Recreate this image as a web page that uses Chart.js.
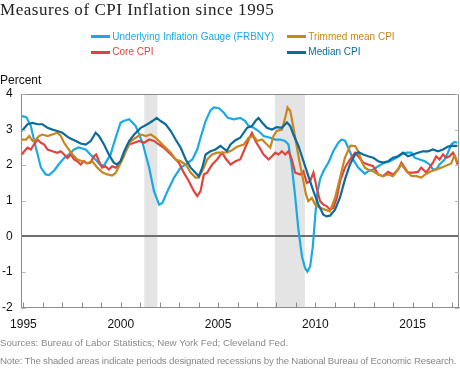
<!DOCTYPE html>
<html>
<head>
<meta charset="utf-8">
<title>Measures of CPI Inflation since 1995</title>
<script src="https://cdn.jsdelivr.net/npm/chart.js@4.4.1/dist/chart.umd.min.js"></script>
<style>
  html, body { margin: 0; padding: 0; background: #fff; }
  #wrap { position: relative; width: 460px; height: 374px; overflow: hidden; font-family: "Liberation Sans", Arial, sans-serif; }
  #chart { position: absolute; left: 0; top: 0; }
  .txt { position: absolute; white-space: nowrap; }
  #title { left: 0; top: 1px; font-family: "Liberation Serif", Georgia, serif; font-size: 17px; line-height: 17px; letter-spacing: 0.55px; color: #222; }
  .leg { font-size: 10px; line-height: 12px; }
  .leg i { position: absolute; left: -21.6px; top: 4.5px; width: 19.3px; height: 3px; }
  #percent { left: 0; top: 73px; font-size: 12px; line-height: 14px; color: #111; }
  .note { left: 0; font-size: 9.7px; line-height: 12px; color: #8a8a8a; }
</style>
</head>
<body>
<div id="wrap">
  <canvas id="chart" width="460" height="374"></canvas>
  <div class="txt" id="title">Measures of CPI Inflation since 1995</div>
  <div class="txt leg" id="leg-uig" style="left:112.3px;top:30.7px;color:#1aa9e6"><i style="background:#1aa9e6"></i>Underlying Inflation Gauge (FRBNY)</div>
  <div class="txt leg" id="leg-trim" style="left:308.3px;top:30.7px;color:#c8861f"><i style="background:#c8861f"></i>Trimmed mean CPI</div>
  <div class="txt leg" id="leg-core" style="left:112.3px;top:46.3px;color:#e0443d"><i style="background:#e0443d"></i>Core CPI</div>
  <div class="txt leg" id="leg-med" style="left:308.3px;top:46.3px;color:#0b6b9a"><i style="background:#0b6b9a"></i>Median CPI</div>
  <div class="txt" id="percent">Percent</div>
  <div class="txt note" style="top:337.3px">Sources: Bureau of Labor Statistics; New York Fed; Cleveland Fed.</div>
  <div class="txt note" style="top:355px;letter-spacing:-0.2px">Note: The shaded areas indicate periods designated recessions by the National Bureau of Economic Research.</div>
</div>
<script>
(function () {
  'use strict';

  // x tick labels and y range
  var yearTicks = [1995, 2000, 2005, 2010, 2015];
  var yTicks = [-2, -1, 0, 1, 2, 3, 4];

  // NBER recessions (start, end) in decimal years
  var recessions = [[2001.21, 2001.88], [2007.92, 2009.46]];

  // Underlying Inflation Gauge (FRBNY)
  var uigYears = [1994.92, 1995.15, 1995.38, 1995.64, 1995.90, 1996.14, 1996.32, 1996.58, 1996.84, 1997.09,
    1997.34, 1997.60, 1997.84, 1998.20, 1998.44, 1998.71, 1998.97, 1999.14, 1999.31, 1999.48,
    1999.64, 1999.82, 1999.99, 2000.14, 2000.43, 2000.77, 2001.12, 2001.46, 2001.71, 2001.97,
    2002.14, 2002.40, 2002.74, 2003.08, 2003.34, 2003.68, 2003.93, 2004.10, 2004.36, 2004.61,
    2004.78, 2005.04, 2005.29, 2005.50, 2005.81, 2006.14, 2006.40, 2006.57, 2006.83, 2007.08,
    2007.34, 2007.68, 2007.94, 2008.19, 2008.44, 2008.62, 2008.79, 2008.96, 2009.13, 2009.31,
    2009.47, 2009.59, 2009.73, 2009.87, 2009.99, 2010.10, 2010.24, 2010.41, 2010.67, 2010.92,
    2011.18, 2011.35, 2011.52, 2011.69, 2011.94, 2012.20, 2012.54, 2012.71, 2012.97, 2013.23,
    2013.48, 2013.82, 2014.17, 2014.42, 2014.68, 2014.94, 2015.10, 2015.36, 2015.62, 2015.87,
    2016.04, 2016.21, 2016.38, 2016.64, 2016.81, 2016.98, 2017.15, 2017.30];
  var uigValues = [3.38, 3.35, 3.10, 2.49, 1.93, 1.74, 1.72, 1.85, 2.04, 2.20,
    2.30, 2.44, 2.50, 2.44, 2.30, 2.15, 2.00, 1.99, 2.15, 2.30,
    2.60, 2.91, 3.19, 3.24, 3.29, 3.10, 2.63, 1.93, 1.27, 0.89,
    0.94, 1.27, 1.65, 1.93, 2.02, 2.16, 2.44, 2.77, 3.24, 3.54,
    3.62, 3.60, 3.48, 3.33, 3.29, 3.33, 3.24, 3.10, 3.05, 2.96,
    2.82, 2.77, 2.72, 2.72, 2.68, 2.58, 1.97, 1.13, 0.19, -0.56,
    -0.89, -0.99, -0.85, -0.28, 0.56, 1.22, 1.60, 1.83, 2.07, 2.39,
    2.63, 2.72, 2.69, 2.49, 2.16, 1.93, 1.76, 1.83, 1.88, 1.97,
    2.05, 2.11, 2.21, 2.30, 2.35, 2.35, 2.21, 2.16, 2.11, 2.02,
    1.88, 1.88, 2.02, 2.16, 2.35, 2.58, 2.65, 2.63];

  // Core CPI
  var coreYears = [1994.92, 1995.04, 1995.21, 1995.38, 1995.54, 1995.72, 1995.90, 1996.07, 1996.24, 1996.49,
    1996.74, 1996.92, 1997.09, 1997.26, 1997.43, 1997.60, 1997.77, 1997.94, 1998.11, 1998.28,
    1998.44, 1998.62, 1998.74, 1998.88, 1999.04, 1999.22, 1999.39, 1999.56, 1999.74, 1999.91,
    2000.16, 2000.43, 2000.69, 2000.94, 2001.20, 2001.46, 2001.71, 2001.97, 2002.22, 2002.48,
    2002.74, 2002.99, 2003.24, 2003.50, 2003.76, 2003.93, 2004.10, 2004.27, 2004.44, 2004.70,
    2004.95, 2005.21, 2005.40, 2005.64, 2005.89, 2006.14, 2006.32, 2006.57, 2006.74, 2006.92,
    2007.08, 2007.34, 2007.60, 2007.77, 2007.94, 2008.11, 2008.28, 2008.45, 2008.62, 2008.79,
    2008.96, 2009.22, 2009.39, 2009.56, 2009.73, 2009.90, 2010.07, 2010.24, 2010.41, 2010.58,
    2010.75, 2010.92, 2011.10, 2011.27, 2011.52, 2011.78, 2012.04, 2012.20, 2012.46, 2012.71,
    2012.97, 2013.23, 2013.48, 2013.74, 2013.99, 2014.25, 2014.42, 2014.59, 2014.76, 2015.02,
    2015.27, 2015.44, 2015.70, 2015.87, 2016.04, 2016.21, 2016.38, 2016.56, 2016.73, 2016.89,
    2017.07, 2017.20, 2017.30];
  var coreValues = [2.30, 2.39, 2.49, 2.44, 2.58, 2.72, 2.63, 2.58, 2.44, 2.39,
    2.35, 2.39, 2.30, 2.20, 2.30, 2.16, 2.11, 2.02, 2.11, 2.05,
    2.07, 2.25, 2.30, 2.11, 1.93, 1.97, 1.88, 1.97, 1.93, 2.02,
    2.30, 2.58, 2.63, 2.68, 2.63, 2.72, 2.68, 2.58, 2.49, 2.35,
    2.21, 2.07, 1.79, 1.55, 1.27, 1.13, 1.27, 1.74, 1.79, 2.02,
    2.16, 2.35, 2.18, 2.02, 2.11, 2.16, 2.39, 2.72, 2.91, 2.68,
    2.54, 2.30, 2.16, 2.25, 2.35, 2.30, 2.39, 2.30, 2.39, 2.16,
    1.79, 1.74, 1.83, 1.50, 1.55, 1.79, 1.36, 0.99, 0.89, 0.85,
    0.75, 0.80, 1.08, 1.55, 1.93, 2.16, 2.35, 2.25, 2.07, 2.02,
    1.97, 1.74, 1.69, 1.81, 1.74, 1.88, 2.07, 1.93, 1.79, 1.79,
    1.81, 1.93, 1.79, 1.93, 2.07, 2.25, 2.16, 2.30, 2.21, 2.25,
    2.35, 2.21, 2.02];

  // Trimmed mean CPI
  var trimYears = [1994.92, 1995.13, 1995.30, 1995.47, 1995.64, 1995.81, 1995.98, 1996.24, 1996.49, 1996.74,
    1996.92, 1997.09, 1997.26, 1997.52, 1997.77, 1998.03, 1998.28, 1998.54, 1998.80, 1999.05,
    1999.31, 1999.56, 1999.74, 1999.91, 2000.16, 2000.30, 2000.52, 2000.77, 2001.03, 2001.29,
    2001.54, 2001.80, 2002.05, 2002.31, 2002.57, 2002.82, 2003.08, 2003.34, 2003.59, 2003.84,
    2004.01, 2004.27, 2004.44, 2004.70, 2004.95, 2005.21, 2005.47, 2005.72, 2005.98, 2006.32,
    2006.57, 2006.83, 2007.00, 2007.26, 2007.51, 2007.68, 2007.85, 2008.02, 2008.28, 2008.45,
    2008.57, 2008.71, 2008.84, 2009.01, 2009.18, 2009.35, 2009.52, 2009.64, 2009.82, 2009.99,
    2010.24, 2010.50, 2010.75, 2011.01, 2011.27, 2011.52, 2011.80, 2012.04, 2012.20, 2012.38,
    2012.54, 2012.71, 2012.97, 2013.23, 2013.48, 2013.74, 2013.99, 2014.25, 2014.42, 2014.68,
    2014.94, 2015.19, 2015.44, 2015.70, 2015.96, 2016.21, 2016.47, 2016.73, 2016.98, 2017.15,
    2017.30];
  var trimValues = [2.72, 2.72, 2.82, 2.68, 2.72, 2.82, 2.86, 2.82, 2.86, 2.91,
    2.82, 2.63, 2.49, 2.30, 2.16, 2.11, 2.05, 2.11, 1.93, 1.80,
    1.74, 1.71, 1.78, 1.97, 2.25, 2.45, 2.68, 2.77, 2.86, 2.82,
    2.86, 2.77, 2.63, 2.49, 2.35, 2.16, 2.11, 2.02, 1.79, 1.65,
    1.65, 1.93, 2.16, 2.30, 2.35, 2.35, 2.36, 2.42, 2.52, 2.58,
    2.77, 2.82, 2.68, 2.72, 2.58, 2.49, 2.82, 2.96, 3.00, 3.33,
    3.62, 3.52, 3.15, 2.63, 2.11, 1.65, 1.17, 0.99, 1.08, 0.89,
    0.80, 0.75, 0.70, 1.08, 1.65, 2.21, 2.55, 2.54, 2.39, 2.11,
    1.93, 1.88, 1.83, 1.74, 1.69, 1.74, 1.69, 1.88, 2.02, 1.83,
    1.70, 1.69, 1.65, 1.76, 1.83, 1.88, 1.93, 1.99, 2.05, 2.28,
    2.07];

  // Median CPI
  var medYears = [1994.92, 1995.21, 1995.47, 1995.73, 1995.98, 1996.24, 1996.49, 1996.74, 1997.00, 1997.34,
    1997.69, 1997.94, 1998.20, 1998.46, 1998.71, 1998.88, 1999.14, 1999.39, 1999.64, 1999.80,
    1999.99, 2000.18, 2000.43, 2000.69, 2001.03, 2001.37, 2001.63, 2001.85, 2002.05, 2002.31,
    2002.57, 2002.82, 2003.08, 2003.34, 2003.59, 2003.84, 2004.01, 2004.19, 2004.36, 2004.61,
    2004.87, 2005.12, 2005.45, 2005.64, 2005.89, 2006.14, 2006.49, 2006.74, 2006.92, 2007.08,
    2007.26, 2007.51, 2007.77, 2008.02, 2008.28, 2008.54, 2008.71, 2008.87, 2009.13, 2009.39,
    2009.64, 2009.90, 2010.16, 2010.41, 2010.58, 2010.75, 2011.01, 2011.27, 2011.52, 2011.78,
    2012.04, 2012.20, 2012.46, 2012.71, 2012.97, 2013.23, 2013.48, 2013.74, 2013.99, 2014.25,
    2014.51, 2014.76, 2015.02, 2015.27, 2015.53, 2015.79, 2016.04, 2016.30, 2016.56, 2016.81,
    2017.07, 2017.30];
  var medValues = [2.96, 3.15, 3.19, 3.15, 3.15, 3.05, 3.00, 2.96, 2.91, 2.77,
    2.68, 2.61, 2.58, 2.68, 2.91, 2.82, 2.58, 2.30, 2.07, 2.02,
    2.11, 2.39, 2.68, 2.86, 3.05, 3.15, 3.24, 3.33, 3.24, 3.15,
    2.96, 2.72, 2.49, 2.16, 1.93, 1.79, 1.69, 1.93, 2.30, 2.39,
    2.44, 2.54, 2.40, 2.58, 2.70, 2.77, 3.05, 3.10, 3.24, 3.33,
    3.20, 3.05, 3.00, 3.07, 3.05, 3.20, 3.10, 2.86, 2.54, 2.11,
    1.69, 1.27, 0.89, 0.61, 0.56, 0.58, 0.75, 1.10, 1.60, 2.02,
    2.30, 2.37, 2.30, 2.25, 2.21, 2.11, 2.07, 2.11, 2.21, 2.25,
    2.35, 2.25, 2.30, 2.35, 2.39, 2.39, 2.44, 2.39, 2.44, 2.52,
    2.54, 2.54];

  function pairs(xs, ys) {
    return xs.map(function (x, i) { return { x: x, y: ys[i] }; });
  }

  function series(label, xs, ys, color, order) {
    return {
      label: label,
      data: pairs(xs, ys),
      borderColor: color,
      backgroundColor: color,
      borderWidth: 2.2,
      pointRadius: 0,
      tension: 0,
      order: order
    };
  }

  // recession shading goes under the grid, frame and inner ticks on top
  var decorations = {
    id: 'decorations',
    beforeDraw: function (chart) {
      var ctx = chart.ctx, a = chart.chartArea, x = chart.scales.x;
      ctx.save();
      ctx.fillStyle = '#e4e4e4';
      recessions.forEach(function (r) {
        var x0 = x.getPixelForValue(r[0]), x1 = x.getPixelForValue(r[1]);
        ctx.fillRect(x0, a.top, x1 - x0, a.bottom - a.top);
      });
      ctx.restore();
    },
    afterDraw: function (chart) {
      var ctx = chart.ctx, a = chart.chartArea, x = chart.scales.x, y = chart.scales.y;
      ctx.save();
      ctx.strokeStyle = '#8c8c8c';
      ctx.lineWidth = 1;
      ctx.beginPath();
      ctx.moveTo(a.left, a.top + 0.5);
      ctx.lineTo(a.right - 0.5, a.top + 0.5);
      ctx.lineTo(a.right - 0.5, a.bottom);
      ctx.stroke();
      ctx.beginPath();
      for (var yr = Math.ceil(x.min); yr <= x.max; yr++) {
        var px = Math.round(x.getPixelForValue(yr)) + 0.5;
        ctx.moveTo(px, a.bottom);
        ctx.lineTo(px, a.bottom - 5);
      }
      ctx.stroke();
      ctx.strokeStyle = '#b5b5b5';
      ctx.beginPath();
      yTicks.forEach(function (v) {
        if (v === 0) return;
        var py = Math.round(y.getPixelForValue(v)) + 0.5;
        ctx.moveTo(a.left, py);
        ctx.lineTo(a.left + 4, py);
        ctx.moveTo(a.right, py);
        ctx.lineTo(a.right - 4, py);
      });
      ctx.stroke();
      ctx.restore();
    }
  };

  var tickFont = { family: '"Liberation Sans", Arial, sans-serif', size: 12 };

  new Chart(document.getElementById('chart'), {
    type: 'line',
    data: {
      datasets: [
        series('Underlying Inflation Gauge (FRBNY)', uigYears, uigValues, '#1aa9e6', 3),
        series('Core CPI', coreYears, coreValues, '#e0443d', 2),
        series('Trimmed mean CPI', trimYears, trimValues, '#c8861f', 1),
        series('Median CPI', medYears, medValues, '#0b6b9a', 0)
      ]
    },
    options: {
      responsive: false,
      animation: false,
      devicePixelRatio: 1,
      layout: { padding: { top: 94, right: 1, left: 0, bottom: 0 } },
      plugins: { legend: { display: false }, tooltip: { enabled: false } },
      scales: {
        x: {
          type: 'linear',
          min: 1994.91,
          max: 2017.38,
          afterFit: function (s) { s.height = 66.5; },
          afterBuildTicks: function (s) {
            s.ticks = yearTicks.map(function (v) { return { value: v }; });
          },
          ticks: { font: tickFont, color: '#111', padding: 10, maxRotation: 0, autoSkip: false,
            callback: function (v) { return String(v); } },
          grid: { display: false, drawTicks: false },
          border: { display: true, color: '#8c8c8c', width: 1 }
        },
        y: {
          min: -2,
          max: 4,
          afterFit: function (s) { s.width = 21; },
          afterBuildTicks: function (s) {
            s.ticks = yTicks.map(function (v) { return { value: v }; });
          },
          ticks: { font: tickFont, color: '#111', padding: 9 },
          grid: {
            drawTicks: false,
            color: function (c) { return c.tick && c.tick.value === 0 ? '#6e6e6e' : 'rgba(0,0,0,0)'; },
            lineWidth: function (c) { return c.tick && c.tick.value === 0 ? 2 : 0; }
          },
          border: { display: true, color: '#8c8c8c', width: 1 }
        }
      }
    },
    plugins: [decorations]
  });
})();
</script>
</body>
</html>
